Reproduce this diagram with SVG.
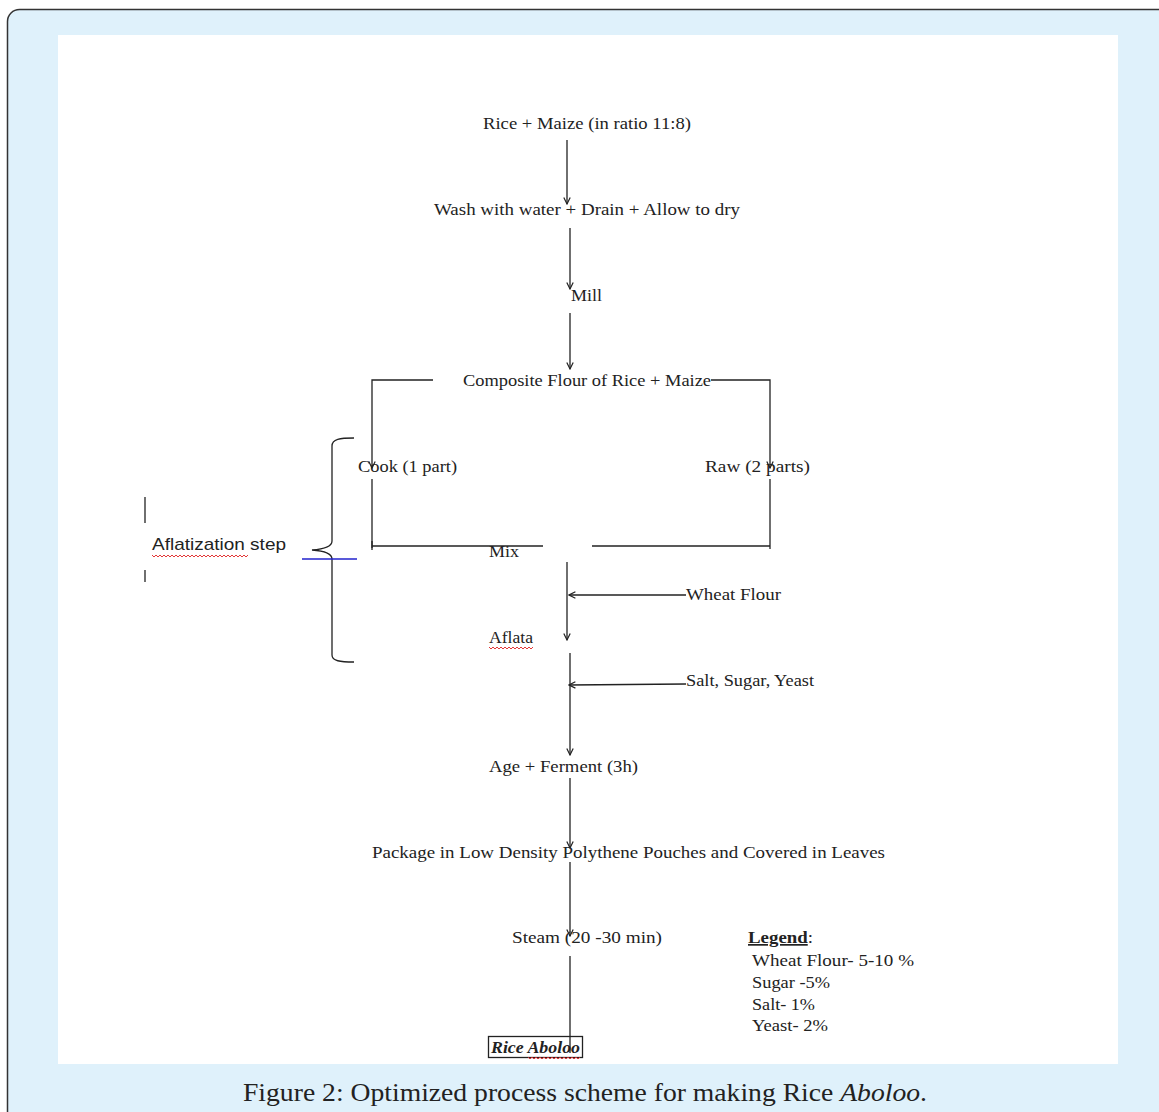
<svg xmlns="http://www.w3.org/2000/svg" width="1159" height="1112" viewBox="0 0 1159 1112">
<defs>
<style>
.t{font-family:"Liberation Serif","DejaVu Serif",serif;font-size:17px;fill:#222}
.s{font-family:"Liberation Sans","DejaVu Sans",sans-serif;font-size:17px;fill:#222}
.ln{stroke:#222;stroke-width:1.3;fill:none}
.wv{stroke:#e02020;stroke-width:0.9;fill:none}
</style>
<marker id="ah" viewBox="0 0 10 10" refX="9" refY="5" markerWidth="8" markerHeight="8" orient="auto" markerUnits="userSpaceOnUse">
<path d="M1,1 L9,5 L1,9" fill="none" stroke="#222" stroke-width="1.5"/>
</marker>
</defs>
<rect x="7.5" y="9.5" width="1200" height="1200" rx="12" fill="#dff1fb" stroke="#333" stroke-width="1.5"/>
<rect x="58" y="35" width="1060" height="1029" fill="#ffffff"/>

<g id="connectors">
<line class="ln" x1="567" y1="140" x2="567" y2="204" marker-end="url(#ah)"/>
<line class="ln" x1="570" y1="228" x2="570" y2="289" marker-end="url(#ah)"/>
<line class="ln" x1="570" y1="313" x2="570" y2="369" marker-end="url(#ah)"/>
<polyline class="ln" points="433,380 372,380 372,468" marker-end="url(#ah)"/>
<polyline class="ln" points="711,380 770,380 770,468" marker-end="url(#ah)"/>
<line class="ln" x1="372" y1="479" x2="372" y2="548"/>
<line class="ln" x1="770" y1="479" x2="770" y2="549"/>
<line class="ln" x1="372" y1="546" x2="543" y2="546"/>
<line class="ln" x1="592" y1="546" x2="770" y2="546"/>
<line class="ln" x1="372" y1="541" x2="372" y2="550"/>
<line class="ln" x1="567" y1="562" x2="567" y2="640" marker-end="url(#ah)"/>
<line class="ln" x1="686" y1="595" x2="569" y2="595" marker-end="url(#ah)"/>
<line class="ln" x1="570" y1="653" x2="570" y2="755" marker-end="url(#ah)"/>
<line class="ln" x1="686" y1="684" x2="569" y2="685" marker-end="url(#ah)"/>
<line class="ln" x1="570" y1="778" x2="570" y2="848" marker-end="url(#ah)"/>
<line class="ln" x1="570" y1="862" x2="570" y2="936" marker-end="url(#ah)"/>
<line class="ln" x1="570" y1="956" x2="570" y2="1053"/>
</g>

<g id="brace">
<path class="ln" d="M354,438 C340,438 332,439 332,446 L332,541 C332,546 325,549 312,550 C325,551 332,554 332,559 L332,655 C332,661 340,662 354,662"/>
<line x1="302" y1="559" x2="357" y2="559" stroke="#2222cc" stroke-width="1.3"/>
<line class="ln" x1="145" y1="497" x2="145" y2="523"/>
<line class="ln" x1="145" y1="570" x2="145" y2="582"/>
</g>

<g id="n-rice-maize"><text class="t" x="483" y="129" textLength="208" lengthAdjust="spacingAndGlyphs">Rice + Maize (in ratio  11:8)</text></g>
<g id="n-wash"><text class="t" x="434" y="215" textLength="306" lengthAdjust="spacingAndGlyphs">Wash with water  + Drain + Allow to dry</text></g>
<g id="n-mill"><text class="t" x="571" y="301" textLength="31" lengthAdjust="spacingAndGlyphs">Mill</text></g>
<g id="n-composite"><text class="t" x="463" y="386" textLength="248" lengthAdjust="spacingAndGlyphs">Composite Flour of Rice + Maize</text></g>
<g id="n-cook"><text class="t" x="358" y="472" textLength="99" lengthAdjust="spacingAndGlyphs">Cook (1 part)</text></g>
<g id="n-raw"><text class="t" x="705" y="472" textLength="105" lengthAdjust="spacingAndGlyphs">Raw (2 parts)</text></g>
<g id="n-aflatization"><text class="s" x="152" y="550" textLength="134" lengthAdjust="spacingAndGlyphs">Aflatization step</text>
<path class="wv" d="M152,555 l2,2 l2,-2 l2,2 l2,-2 l2,2 l2,-2 l2,2 l2,-2 l2,2 l2,-2 l2,2 l2,-2 l2,2 l2,-2 l2,2 l2,-2 l2,2 l2,-2 l2,2 l2,-2 l2,2 l2,-2 l2,2 l2,-2 l2,2 l2,-2 l2,2 l2,-2 l2,2 l2,-2 l2,2 l2,-2 l2,2 l2,-2 l2,2 l2,-2 l2,2 l2,-2 l2,2 l2,-2 l2,2 l2,-2 l2,2 l2,-2 l2,2 l2,-2 l2,2 l2,-2"/></g>
<g id="n-mix"><text class="t" x="489" y="557" textLength="30" lengthAdjust="spacingAndGlyphs">Mix</text></g>
<g id="n-wheat"><text class="t" x="686" y="600" textLength="95" lengthAdjust="spacingAndGlyphs">Wheat Flour</text></g>
<g id="n-aflata"><text class="t" x="489" y="643" textLength="44" lengthAdjust="spacingAndGlyphs">Aflata</text>
<path class="wv" d="M489,647 l2,2 l2,-2 l2,2 l2,-2 l2,2 l2,-2 l2,2 l2,-2 l2,2 l2,-2 l2,2 l2,-2 l2,2 l2,-2 l2,2 l2,-2 l2,2 l2,-2 l2,2 l2,-2 l2,2 l2,-2"/></g>
<g id="n-salt"><text class="t" x="686" y="686" textLength="128" lengthAdjust="spacingAndGlyphs">Salt, Sugar,  Yeast</text></g>
<g id="n-age"><text class="t" x="489" y="772" textLength="149" lengthAdjust="spacingAndGlyphs">Age + Ferment  (3h)</text></g>
<g id="n-package"><text class="t" x="372" y="858" textLength="513" lengthAdjust="spacingAndGlyphs">Package in Low Density Polythene  Pouches and Covered  in Leaves</text></g>
<g id="n-steam"><text class="t" x="512" y="943" textLength="150" lengthAdjust="spacingAndGlyphs">Steam  (20 -30 min)</text></g>
<g id="n-aboloo">
<rect x="488.5" y="1036.5" width="94" height="21" fill="none" stroke="#222" stroke-width="1.3"/>
<text class="t" x="491" y="1053" textLength="89" lengthAdjust="spacingAndGlyphs" font-weight="bold" font-style="italic">Rice Aboloo</text>
<path class="wv" d="M528,1057 l2,2 l2,-2 l2,2 l2,-2 l2,2 l2,-2 l2,2 l2,-2 l2,2 l2,-2 l2,2 l2,-2 l2,2 l2,-2 l2,2 l2,-2 l2,2 l2,-2 l2,2 l2,-2 l2,2 l2,-2 l2,2 l2,-2 l2,2 l2,-2"/>
</g>
<g id="legend">
<text class="t" x="748" y="943" textLength="65" lengthAdjust="spacingAndGlyphs"><tspan font-weight="bold" text-decoration="underline">Legend</tspan>:</text>
<text class="t" x="752" y="966" textLength="162" lengthAdjust="spacingAndGlyphs">Wheat Flour- 5-10  %</text>
<text class="t" x="752" y="988" textLength="78" lengthAdjust="spacingAndGlyphs">Sugar  -5%</text>
<text class="t" x="752" y="1010" textLength="63" lengthAdjust="spacingAndGlyphs">Salt- 1%</text>
<text class="t" x="752" y="1031" textLength="76" lengthAdjust="spacingAndGlyphs">Yeast- 2%</text>
</g>
<g id="caption"><text x="243" y="1101" font-family="Liberation Serif, DejaVu Serif, serif" font-size="25" fill="#222" textLength="684" lengthAdjust="spacingAndGlyphs">Figure 2: Optimized process scheme for making Rice <tspan font-style="italic">Aboloo</tspan>.</text></g>
</svg>
